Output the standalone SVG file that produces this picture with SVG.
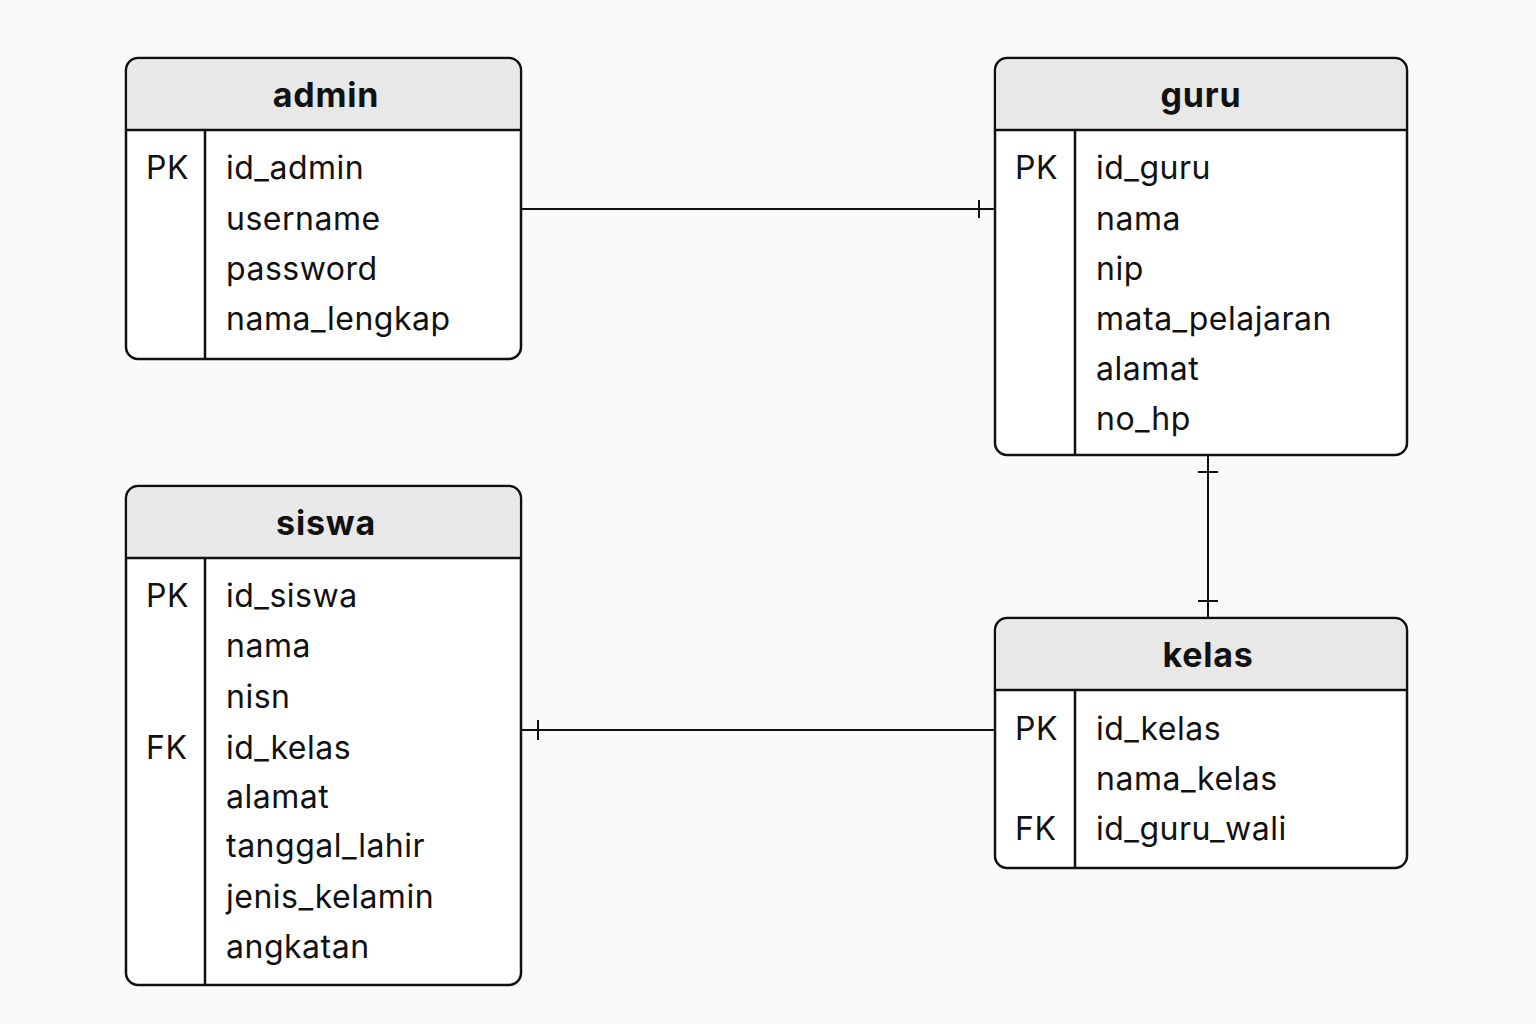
<svg xmlns="http://www.w3.org/2000/svg" width="1536" height="1024" viewBox="0 0 1536 1024">
<style>
.bg{fill:#fafafa}
.box{fill:#ffffff;stroke:#111;stroke-width:2.5}
.hdr{fill:#e8e8e8}
.ln{stroke:#111;stroke-width:2.5;fill:none}
.con{stroke:#111;stroke-width:2;fill:none}
.title{font-family:Inter,"Liberation Sans",sans-serif;font-size:34px;font-weight:700;fill:#111;text-anchor:middle;letter-spacing:0.8px}
.txt{font-family:Inter,"Liberation Sans",sans-serif;font-size:32px;fill:#111;letter-spacing:0.5px}
</style>
<rect class="bg" x="0" y="0" width="1536" height="1024"/>
<g id="connectors">
<path class="con" d="M521 209H995M979 200V218"/>
<path class="con" d="M1208 455V618M1198 472H1218M1198 601H1218"/>
<path class="con" d="M521 730H995M538 720V740"/>
</g>
<g id="admin">
<rect class="box" x="126" y="58" width="395" height="301" rx="12"/>
<path class="hdr" d="M138 59.5H509A10.5 10.5 0 0 1 519.5 70V129H127.5V70A10.5 10.5 0 0 1 138 59.5Z"/>
<path class="ln" d="M126 130H521M205 130V359"/>
<text class="title" x="326" y="107">admin</text>
<text class="txt" x="146" y="179">PK</text>
<text class="txt" x="226" y="179">id_admin</text>
<text class="txt" x="226" y="230">username</text>
<text class="txt" x="226" y="280">password</text>
<text class="txt" x="226" y="330">nama_lengkap</text>
</g>
<g id="guru">
<rect class="box" x="995" y="58" width="412" height="397" rx="12"/>
<path class="hdr" d="M1007 59.5H1395A10.5 10.5 0 0 1 1405.5 70V129H996.5V70A10.5 10.5 0 0 1 1007 59.5Z"/>
<path class="ln" d="M995 130H1407M1075 130V455"/>
<text class="title" x="1201" y="107">guru</text>
<text class="txt" x="1015" y="179">PK</text>
<text class="txt" x="1096" y="179">id_guru</text>
<text class="txt" x="1096" y="230">nama</text>
<text class="txt" x="1096" y="280">nip</text>
<text class="txt" x="1096" y="330">mata_pelajaran</text>
<text class="txt" x="1096" y="380">alamat</text>
<text class="txt" x="1096" y="430">no_hp</text>
</g>
<g id="siswa">
<rect class="box" x="126" y="486" width="395" height="499" rx="12"/>
<path class="hdr" d="M138 487.5H509A10.5 10.5 0 0 1 519.5 498V557H127.5V498A10.5 10.5 0 0 1 138 487.5Z"/>
<path class="ln" d="M126 558H521M205 558V985"/>
<text class="title" x="326" y="535">siswa</text>
<text class="txt" x="146" y="607">PK</text>
<text class="txt" x="226" y="607">id_siswa</text>
<text class="txt" x="226" y="657">nama</text>
<text class="txt" x="226" y="708">nisn</text>
<text class="txt" x="146" y="759">FK</text>
<text class="txt" x="226" y="759">id_kelas</text>
<text class="txt" x="226" y="808">alamat</text>
<text class="txt" x="226" y="857">tanggal_lahir</text>
<text class="txt" x="226" y="908">jenis_kelamin</text>
<text class="txt" x="226" y="958">angkatan</text>
</g>
<g id="kelas">
<rect class="box" x="995" y="618" width="412" height="250" rx="12"/>
<path class="hdr" d="M1007 619.5H1395A10.5 10.5 0 0 1 1405.5 630V689H996.5V630A10.5 10.5 0 0 1 1007 619.5Z"/>
<path class="ln" d="M995 690H1407M1075 690V868"/>
<text class="title" x="1208" y="667">kelas</text>
<text class="txt" x="1015" y="740">PK</text>
<text class="txt" x="1096" y="740">id_kelas</text>
<text class="txt" x="1096" y="790">nama_kelas</text>
<text class="txt" x="1015" y="840">FK</text>
<text class="txt" x="1096" y="840">id_guru_wali</text>
</g>
</svg>
